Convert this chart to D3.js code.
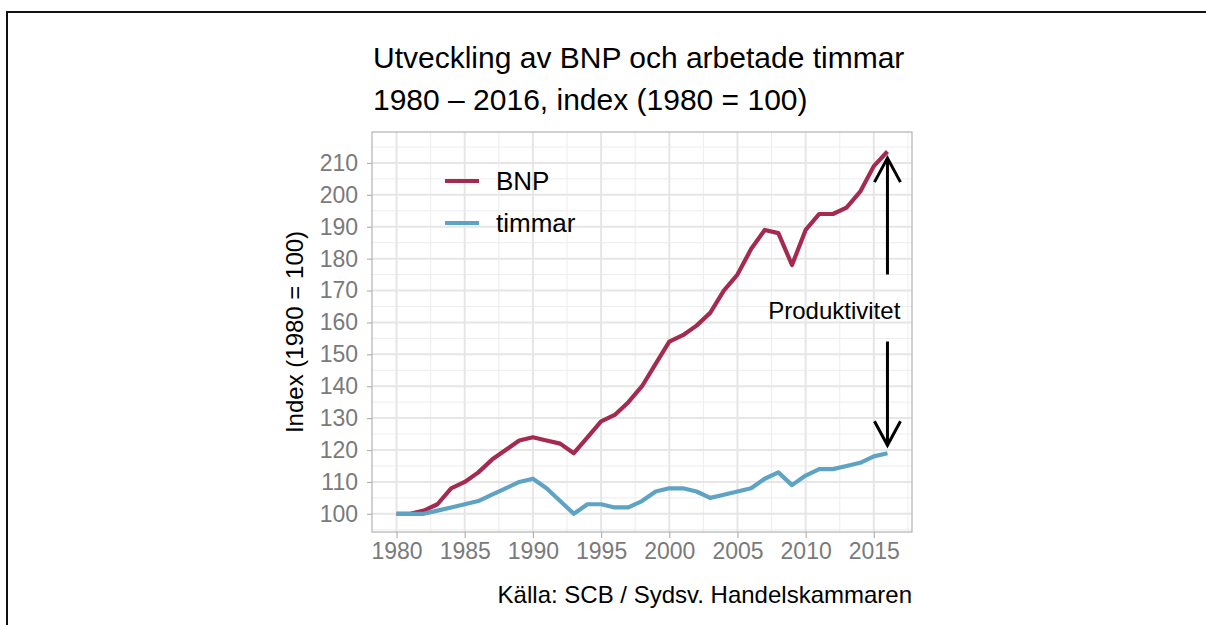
<!DOCTYPE html>
<html>
<head>
<meta charset="utf-8">
<script src="https://cdn.jsdelivr.net/npm/d3@7"></script>
<style>
  body { margin: 0; background: #fff; }
  text { font-family: "Liberation Sans", Arial, sans-serif; }
</style>
</head>
<body>
<script>
// data (index, 1980 = 100)
const years = d3.range(1980, 2017);
const bnp = [100, 100, 101, 103, 108, 110, 113, 117, 120, 123,
             124, 123, 122, 119, 124, 129, 131, 135, 140, 147,
             154, 156, 159, 163, 170, 175, 183, 189, 188, 178,
             189, 194, 194, 196, 201, 209, 213.6];
const timmar = [100, 100, 100, 101, 102, 103, 104, 106, 108, 110,
                111, 108, 104, 100, 103, 103, 102, 102, 104, 107,
                108, 108, 107, 105, 106, 107, 108, 111, 113, 109,
                112, 114, 114, 115, 116, 118, 119];
const seriesNames = ["BNP", "timmar"];
const seriesColors = ["#a52a4f", "#5fa3c4"];
const yTicks = d3.range(100, 211, 10);
const xTicks = d3.range(1980, 2016, 5);
// productivity arrows: [x, from, to]
const arrows = [[2016, 175, 211.5], [2016, 154, 121.5]];

const W = 1206, H = 625;
const panel = { left: 372, right: 912, top: 132, bottom: 532 };

const svg = d3.select("body").append("svg")
  .attr("width", W)
  .attr("height", H);

// outer frame (only top and left edges are visible)
svg.append("path")
  .attr("d", `M7,${H} L7,12 L${W},12`)
  .attr("fill", "none")
  .attr("stroke", "#111")
  .attr("stroke-width", 2);

const x = d3.scaleLinear().domain([1978.2, 2017.8]).range([panel.left, panel.right]);
const y = d3.scaleLinear().domain([94.3, 219.7]).range([panel.bottom, panel.top]);

// grid
const grid = svg.append("g");
grid.selectAll(".minor-y")
  .data(d3.range(95, 220, 10))
  .enter().append("line")
  .attr("x1", panel.left).attr("x2", panel.right)
  .attr("y1", d => y(d)).attr("y2", d => y(d))
  .attr("stroke", "#ededed").attr("stroke-width", 1);
grid.selectAll(".minor-x")
  .data(d3.range(1977.5, 2018, 5))
  .enter().append("line")
  .filter(d => d > 1978.2 && d < 2017.8)
  .attr("y1", panel.top).attr("y2", panel.bottom)
  .attr("x1", d => x(d)).attr("x2", d => x(d))
  .attr("stroke", "#ededed").attr("stroke-width", 1);
grid.selectAll(".major-y")
  .data(yTicks)
  .enter().append("line")
  .attr("x1", panel.left).attr("x2", panel.right)
  .attr("y1", d => y(d)).attr("y2", d => y(d))
  .attr("stroke", "#e6e6e6").attr("stroke-width", 2);
grid.selectAll(".major-x")
  .data(xTicks)
  .enter().append("line")
  .attr("y1", panel.top).attr("y2", panel.bottom)
  .attr("x1", d => x(d)).attr("x2", d => x(d))
  .attr("stroke", "#e6e6e6").attr("stroke-width", 2);

// axes
const xAxis = svg.append("g")
  .attr("transform", `translate(0,${panel.bottom})`)
  .call(d3.axisBottom(x).tickValues(xTicks).tickFormat(d3.format("d")).tickSize(6).tickPadding(5));
const yAxis = svg.append("g")
  .attr("transform", `translate(${panel.left},0)`)
  .call(d3.axisLeft(y).tickValues(yTicks).tickFormat(d3.format("d")).tickSize(5).tickPadding(9));
[xAxis, yAxis].forEach(a => {
  a.select(".domain").remove();
  a.selectAll(".tick line").attr("stroke", "#b3b3b3").attr("stroke-width", 1.2);
  a.selectAll(".tick text")
    .attr("fill", "#7a7a7a")
    .style("font-size", "23px")
    .style("font-family", "'Liberation Sans', Arial, sans-serif");
});

// panel border
svg.append("rect")
  .attr("x", panel.left).attr("y", panel.top)
  .attr("width", panel.right - panel.left)
  .attr("height", panel.bottom - panel.top)
  .attr("fill", "none")
  .attr("stroke", "#b3b3b3")
  .attr("stroke-width", 1.2);

// lines
const line = d3.line()
  .x((d, i) => x(years[i]))
  .y(d => y(d));
[bnp, timmar].forEach((s, k) => {
  svg.append("path")
    .datum(s)
    .attr("d", line)
    .attr("fill", "none")
    .attr("stroke", seriesColors[k])
    .attr("stroke-width", 4.2)
    .attr("stroke-linejoin", "round");
});

// arrows
arrows.forEach(a => {
  const ax = x(a[0]), y0 = y(a[1]), y1 = y(a[2]);
  const dir = y1 < y0 ? 1 : -1;
  svg.append("path")
    .attr("d", `M${ax},${y0} L${ax},${y1} M${ax - 13},${y1 + dir * 24} L${ax},${y1} L${ax + 13},${y1 + dir * 24}`)
    .attr("fill", "none")
    .attr("stroke", "#000")
    .attr("stroke-width", 3);
});
svg.append("text")
  .attr("x", x(2012.1)).attr("y", y(163.5) + 8)
  .attr("text-anchor", "middle")
  .style("font-size", "24px")
  .text("Produktivitet");

// legend
const legend = svg.append("g");
seriesNames.forEach((n, k) => {
  const ly = 181 + k * 42;
  legend.append("line")
    .attr("x1", 445).attr("x2", 479)
    .attr("y1", ly).attr("y2", ly)
    .attr("stroke", seriesColors[k])
    .attr("stroke-width", 4.2);
  legend.append("text")
    .attr("x", 496).attr("y", ly + 9)
    .style("font-size", "26px")
    .text(n);
});

// titles
svg.append("text")
  .attr("x", 373).attr("y", 68)
  .style("font-size", "30px")
  .text("Utveckling av BNP och arbetade timmar");
svg.append("text")
  .attr("x", 373).attr("y", 110)
  .style("font-size", "30px")
  .text("1980 \u2013 2016, index (1980 = 100)");

svg.append("text")
  .attr("transform", `translate(303,${(panel.top + panel.bottom) / 2}) rotate(-90)`)
  .attr("text-anchor", "middle")
  .style("font-size", "24px")
  .text("Index (1980 = 100)");

svg.append("text")
  .attr("x", panel.right).attr("y", 603)
  .attr("text-anchor", "end")
  .style("font-size", "24px")
  .text("Källa: SCB / Sydsv. Handelskammaren");
</script>
</body>
</html>
